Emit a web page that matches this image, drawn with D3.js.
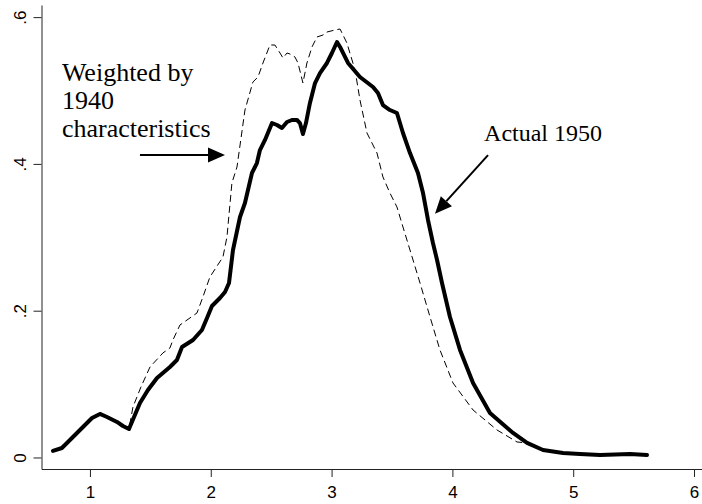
<!DOCTYPE html>
<html>
<head>
<meta charset="utf-8">
<script src="https://cdn.jsdelivr.net/npm/d3@7"></script>
<style>
  html, body { margin: 0; padding: 0; background: #fff; }
  svg { display: block; }
</style>
</head>
<body>
<svg id="chart" width="702" height="504"></svg>
<script>
// ---- Data (log wage on x, density on y) ----
const actualX = [0.694, 0.768, 1.017, 1.083, 1.141, 1.224, 1.273, 1.323, 1.414, 1.48, 1.555, 1.662, 1.720, 1.762, 1.853, 1.927, 1.969, 2.010, 2.076, 2.118, 2.151, 2.184, 2.242, 2.283, 2.341, 2.382, 2.407, 2.449, 2.507, 2.548, 2.589, 2.631, 2.672, 2.714, 2.738, 2.763, 2.788, 2.821, 2.863, 2.904, 2.962, 3.003, 3.045, 3.070, 3.136, 3.235, 3.343, 3.384, 3.425, 3.483, 3.541, 3.591, 3.649, 3.715, 3.757, 3.798, 3.839, 3.873, 3.914, 3.980, 4.063, 4.171, 4.311, 4.502, 4.618, 4.750, 4.916, 5.056, 5.222, 5.470, 5.611];
const actualY = [0.0089, 0.0129, 0.0538, 0.0593, 0.0552, 0.0484, 0.0429, 0.0388, 0.0743, 0.092, 0.1083, 0.1233, 0.1328, 0.1506, 0.1601, 0.1737, 0.190, 0.2064, 0.2173, 0.2255, 0.2377, 0.2827, 0.3277, 0.3467, 0.3876, 0.4012, 0.4189, 0.4326, 0.4557, 0.4530, 0.4489, 0.4571, 0.4598, 0.4598, 0.4557, 0.4407, 0.4557, 0.4830, 0.5102, 0.5238, 0.5375, 0.5511, 0.5661, 0.5593, 0.5375, 0.5184, 0.5048, 0.4966, 0.4802, 0.4734, 0.4693, 0.4421, 0.4148, 0.3876, 0.3603, 0.3236, 0.2922, 0.2691, 0.2377, 0.1914, 0.1465, 0.1015, 0.0606, 0.0334, 0.0198, 0.0102, 0.0061, 0.0048, 0.0034, 0.0048, 0.0034];

const weightedX = [0.694, 0.768, 1.017, 1.083, 1.141, 1.224, 1.273, 1.323, 1.356, 1.422, 1.497, 1.604, 1.662, 1.687, 1.745, 1.886, 1.935, 1.993, 2.101, 2.134, 2.175, 2.217, 2.283, 2.349, 2.391, 2.432, 2.490, 2.531, 2.573, 2.598, 2.631, 2.656, 2.697, 2.722, 2.763, 2.796, 2.838, 2.879, 2.929, 2.962, 3.028, 3.070, 3.127, 3.194, 3.235, 3.293, 3.376, 3.425, 3.483, 3.541, 3.591, 3.649, 3.732, 3.815, 3.897, 4.005, 4.171, 4.369, 4.535, 4.618, 4.750, 4.916, 5.056, 5.222, 5.470, 5.611];
const weightedY = [0.0089, 0.0129, 0.0552, 0.0606, 0.0565, 0.0497, 0.0443, 0.0388, 0.0688, 0.096, 0.1233, 0.1424, 0.1492, 0.1601, 0.1805, 0.1969, 0.2187, 0.2459, 0.2732, 0.3004, 0.3740, 0.3958, 0.4734, 0.5116, 0.5184, 0.5375, 0.5620, 0.5620, 0.5511, 0.5443, 0.5511, 0.5497, 0.5456, 0.5375, 0.5102, 0.5375, 0.5593, 0.5729, 0.5756, 0.5797, 0.5824, 0.5838, 0.5647, 0.5279, 0.4871, 0.4421, 0.4148, 0.3822, 0.3603, 0.3413, 0.3140, 0.2827, 0.2377, 0.1914, 0.1465, 0.1015, 0.0647, 0.0375, 0.0211, 0.0198, 0.0102, 0.0061, 0.0048, 0.0034, 0.0048, 0.0034];

const xTicks = [1, 2, 3, 4, 5, 6];
const xTickLabels = ["1", "2", "3", "4", "5", "6"];
const yTicks = [0, 0.2, 0.4, 0.6];
const yTickLabels = ["0", ".2", ".4", ".6"];

const labelWeighted = ["Weighted by", "1940", "characteristics"];
const labelActual = "Actual 1950";

// ---- Layout ----
const svg = d3.select("#chart");
const x = d3.scaleLinear().domain([0.599, 6.066]).range([41.5, 702]);
const y = d3.scaleLinear().domain([-0.0157, 0.6165]).range([469, 5]);

// Axes
const xAxis = d3.axisBottom(x).tickValues(xTicks).tickFormat((d, i) => xTickLabels[i]).tickSize(8).tickSizeOuter(0);
const gx = svg.append("g").attr("transform", `translate(0,${y.range()[0]})`).call(xAxis);
gx.select(".domain").attr("stroke", "#222").attr("stroke-width", 1);
gx.selectAll(".tick line").attr("stroke", "#222");
gx.selectAll(".tick text").attr("font-family", "'Liberation Sans', Arial, sans-serif").attr("font-size", 17).attr("fill", "#000").attr("dy", "1.05em");

const yAxis = d3.axisLeft(y).tickValues(yTicks).tickFormat((d, i) => yTickLabels[i]).tickSize(8).tickSizeOuter(0);
const gy = svg.append("g").attr("transform", `translate(${x.range()[0]},0)`).call(yAxis);
gy.select(".domain").attr("stroke", "#222").attr("stroke-width", 1);
gy.selectAll(".tick line").attr("stroke", "#222");
gy.selectAll(".tick text")
  .attr("font-family", "'Liberation Sans', Arial, sans-serif").attr("font-size", 17).attr("fill", "#000")
  .attr("x", null).attr("dy", null)
  .attr("text-anchor", "middle")
  .attr("transform", "translate(-15.5,0) rotate(-90)");

// Lines
const line = d3.line().x(d => x(d[0])).y(d => y(d[1])).curve(d3.curveLinear);
const weighted = weightedX.map((v, i) => [v, weightedY[i]]);
const actual = actualX.map((v, i) => [v, actualY[i]]);

svg.append("path").datum(weighted).attr("d", line)
  .attr("fill", "none").attr("stroke", "#000").attr("stroke-width", 1)
  .attr("stroke-dasharray", "7,4");

svg.append("path").datum(actual).attr("d", line)
  .attr("fill", "none").attr("stroke", "#000").attr("stroke-width", 4)
  .attr("stroke-linejoin", "round").attr("stroke-linecap", "round");

// Annotations (positions in data units)
const annWeighted = { x: 0.768, y: [0.513, 0.475, 0.437] };
const annActual = { x: 4.262, y: 0.431 };
const arrowW = { x1: 1.414, y1: 0.412, x2: 2.118, y2: 0.412 };
const arrowA = { x1: 4.295, y1: 0.412, x2: 3.856, y2: 0.332 };

const serif = "'Liberation Serif', 'Times New Roman', serif";
labelWeighted.forEach((t, i) => {
  svg.append("text").attr("x", x(annWeighted.x)).attr("y", y(annWeighted.y[i]))
    .attr("font-family", serif).attr("font-size", 26).attr("fill", "#000").text(t);
});
svg.append("text").attr("x", x(annActual.x)).attr("y", y(annActual.y))
  .attr("font-family", serif).attr("font-size", 24).attr("fill", "#000").text(labelActual);

function arrow(a) {
  const x1 = x(a.x1), y1 = y(a.y1), x2 = x(a.x2), y2 = y(a.y2);
  const ang = Math.atan2(y2 - y1, x2 - x1);
  const L = 17, W = 7.5;
  const bx = x2 - L * Math.cos(ang), by = y2 - L * Math.sin(ang);
  svg.append("line").attr("x1", x1).attr("y1", y1).attr("x2", bx).attr("y2", by)
    .attr("stroke", "#000").attr("stroke-width", 2);
  const px = -Math.sin(ang) * W, py = Math.cos(ang) * W;
  svg.append("path")
    .attr("d", `M${x2},${y2}L${bx + px},${by + py}L${bx - px},${by - py}Z`)
    .attr("fill", "#000");
}
arrow(arrowW);
arrow(arrowA);
</script>
</body>
</html>
